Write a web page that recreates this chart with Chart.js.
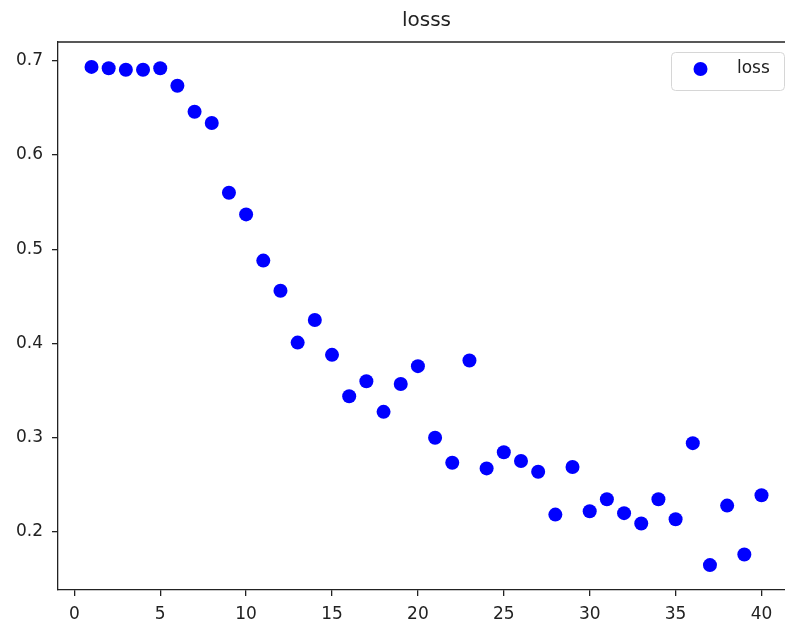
<!DOCTYPE html>
<html>
<head>
<meta charset="utf-8">
<script src="https://cdn.jsdelivr.net/npm/chart.js@4.4.1/dist/chart.umd.min.js"></script>
<style>
html,body{margin:0;padding:0;overflow:hidden;background:#fff;}
#wrap{width:802px;height:628px;}
</style>
</head>
<body>
<div id="wrap"><canvas id="c" width="802" height="628"></canvas></div>
<script>
// ---- data ----
const epochs = [1,2,3,4,5,6,7,8,9,10,11,12,13,14,15,16,17,18,19,20,21,22,23,24,25,26,27,28,29,30,31,32,33,34,35,36,37,38,39,40];
const lossValues = [0.6935,0.692,0.6905,0.6905,0.692,0.6735,0.646,0.634,0.560,0.537,
                    0.488,0.456,0.401,0.425,0.388,0.344,0.360,0.3275,0.357,0.376,
                    0.300,0.2735,0.382,0.2675,0.2847,0.2753,0.264,0.2185,0.269,0.222,
                    0.2347,0.220,0.209,0.2347,0.2135,0.2943,0.1649,0.228,0.1762,0.239];
const xTickValues = [0,5,10,15,20,25,30,35,40];
const yTickValues = [0.2,0.3,0.4,0.5,0.6,0.7];
const chartTitle = 'losss';
const seriesLabel = 'loss';

// matplotlib-like 5% margins
function padRange(arr){
  const lo = Math.min(...arr), hi = Math.max(...arr), m = (hi-lo)*0.05;
  return [lo-m, hi+m];
}
const [xMin,xMax] = padRange(epochs);
const [yMin,yMax] = padRange(lossValues);

const FONT = "'DejaVu Sans', sans-serif";
const INK = '#222';

const framePlugin = {
  id: 'frameAndLegend',
  afterDraw(chart){
    const {ctx, chartArea:a} = chart;
    ctx.save();
    ctx.strokeStyle = INK;
    ctx.lineWidth = 1.3;
    ctx.beginPath();
    ctx.moveTo(a.left, a.top);
    ctx.lineTo(a.right, a.top);
    ctx.lineTo(a.right, a.bottom);
    ctx.stroke();

    // legend
    const ds = chart.data.datasets[0];
    const bw = 113, bh = 38;
    const bx = a.right - 124, by = a.top + 10;
    ctx.beginPath();
    ctx.roundRect(bx+0.5, by+0.5, bw, bh, 4);
    ctx.fillStyle = 'rgba(255,255,255,0.85)';
    ctx.fill();
    ctx.strokeStyle = '#d6d6d6';
    ctx.lineWidth = 1;
    ctx.stroke();
    const cy = by + 17;
    ctx.beginPath();
    ctx.arc(bx + 29.5, cy, ds.pointRadius, 0, Math.PI*2);
    ctx.fillStyle = ds.backgroundColor;
    ctx.fill();
    ctx.fillStyle = INK;
    ctx.font = "17px " + FONT;
    ctx.textBaseline = 'middle';
    ctx.textAlign = 'left';
    ctx.fillText(ds.label, bx + 66, cy);
    ctx.restore();
  }
};

new Chart(document.getElementById('c'), {
  type: 'scatter',
  data: {
    datasets: [{
      label: seriesLabel,
      data: epochs.map((e,i)=>({x:e, y:lossValues[i]})),
      backgroundColor: '#0000ff',
      borderColor: '#0000ff',
      borderWidth: 0,
      pointRadius: 7,
      pointHoverRadius: 7
    }]
  },
  options: {
    responsive: false,
    animation: false,
    events: [],
    layout: { padding: { left: 0, right: 0, top: 0, bottom: 0 } },
    plugins: {
      legend: { display: false },
      tooltip: { enabled: false },
      title: {
        display: true,
        text: chartTitle,
        fullSize: false,
        color: INK,
        font: { family: FONT, size: 20, weight: 'normal' },
        padding: { top: 9, bottom: 9 }
      }
    },
    scales: {
      x: {
        type: 'linear',
        min: xMin, max: xMax,
        afterBuildTicks: s => { s.ticks = xTickValues.map(v=>({value:v})); },
        afterFit: s => { s.height = 38; },
        grid: { drawOnChartArea: false, drawTicks: true, tickLength: 6, tickColor: INK, tickWidth: 1.3, lineWidth: 1.3, color: INK },
        border: { display: true, color: INK, width: 1.3 },
        ticks: { color: INK, font: { family: FONT, size: 17 }, padding: 8, maxRotation: 0, autoSkip: false,
                 callback: v => String(v) }
      },
      y: {
        type: 'linear',
        min: yMin, max: yMax,
        afterBuildTicks: s => { s.ticks = yTickValues.map(v=>({value:v})); },
        afterFit: s => { s.width = 58; },
        grid: { drawOnChartArea: false, drawTicks: true, tickLength: 6, tickColor: INK, tickWidth: 1.3, lineWidth: 1.3, color: INK },
        border: { display: true, color: INK, width: 1.3 },
        ticks: { color: INK, font: { family: FONT, size: 17 }, padding: 9, autoSkip: false,
                 callback: v => v.toFixed(1) }
      }
    }
  },
  plugins: [framePlugin]
});
</script>
</body>
</html>
